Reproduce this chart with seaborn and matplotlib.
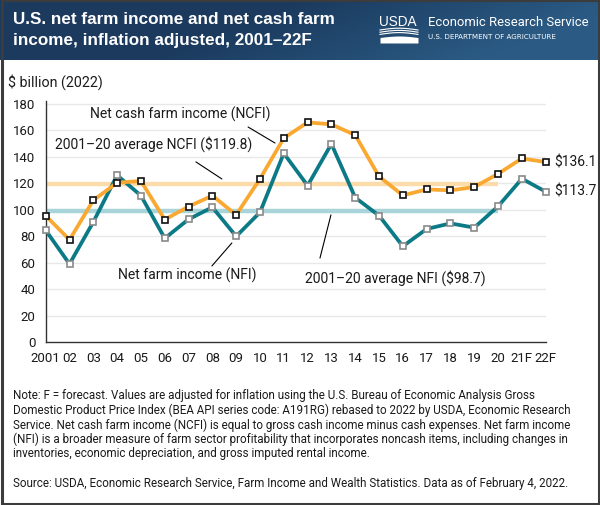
import numpy as np
import pandas as pd
import seaborn as sns
import matplotlib.pyplot as plt
from matplotlib.patches import Rectangle

# Data ($ billion, 2022 dollars)
years = ['2001', '02', '03', '04', '05', '06', '07', '08', '09', '10', '11',
         '12', '13', '14', '15', '16', '17', '18', '19', '20', '21F', '22F']
ncfi = [95.5, 77.3, 107.2, 120.5, 121.8, 92.6, 102.4, 110.7, 96.1, 123.4, 154.2,
        166.1, 164.6, 156.5, 125.2, 110.9, 115.4, 114.7, 117.2, 127.2, 138.8, 136.1]
nfi = [84.5, 59.0, 90.8, 126.1, 110.7, 78.4, 92.8, 101.9, 79.9, 98.1, 142.7,
       118.3, 149.8, 109.2, 95.6, 72.4, 85.5, 89.7, 86.5, 102.6, 123.5, 113.7]
ncfi_avg = 119.8
nfi_avg = 98.7
avg_years = ('2001', '20')
y_ticks = [0, 20, 40, 60, 80, 100, 120, 140, 160, 180]

ORANGE = '#F9A832'
TEAL = '#0C7A86'
ORANGE_LIGHT = '#FBDCAA'
TEAL_LIGHT = '#A9D5DA'
TXT = '#1a1a1a'

df = pd.DataFrame({'year': years, 'pos': np.arange(len(years)), 'NCFI': ncfi, 'NFI': nfi})

W, H = 600, 505
fig = plt.figure(figsize=(W / 100, H / 100), dpi=100)

# background layer in pixel coordinates (banner, border, logo, notes)
bg = fig.add_axes([0, 0, 1, 1], zorder=0)
bg.axis('off')

# banner gradient
gx = np.linspace(0, 1, 300)
gy = np.linspace(0, 1, 40)
GX, GY = np.meshgrid(gx, gy)
t = np.clip((GX + 0.25 * GY - 0.5) / 0.55, 0, 1)
c0 = np.array([0x1b, 0x3a, 0x5e]) / 255
c1 = np.array([0x2b, 0x5b, 0x84]) / 255
img = c0[None, None, :] * (1 - t[..., None]) + c1[None, None, :] * t[..., None]
bg.imshow(img, extent=[0, W, 60, 0], aspect='auto', zorder=1)
bg.set_xlim(0, W)
bg.set_ylim(H, 0)

# outer border
bg.add_patch(Rectangle((1.5, 0), W - 3, H - 1.5, fill=False, edgecolor='#3c3c3c', linewidth=2.2, zorder=5))

# title
bg.text(13, 19.5, 'U.S. net farm income and net cash farm', color='white', fontsize=12.3,
        fontweight='bold', family='Liberation Sans', va='center', ha='left', zorder=3)
bg.text(13, 40, 'income, inflation adjusted, 2001\u201322F', color='white', fontsize=12.3,
        fontweight='bold', family='Liberation Sans', va='center', ha='left', zorder=3)

# USDA logo
bg.text(379, 22.5, 'USDA', color='white', fontsize=9.8, family='Liberation Sans',
        va='center', ha='left', zorder=3)
sx = np.linspace(380, 418, 40)
wave = np.sin((sx - 380) / 38 * np.pi)
for off in [0, 2.2, 4.4]:
    bg.plot(sx, 30 + off - 1.8 * wave, color='white', lw=0.8, zorder=3)
bg.fill_between(sx, 37.5 - 1.5 * wave, 43, color='white', lw=0, zorder=3)
bg.text(428, 22.5, 'Economic Research Service', color='white', fontsize=9.4, family='Roboto',
        va='center', ha='left', zorder=3)
bg.text(428, 37, 'U.S. DEPARTMENT OF AGRICULTURE', color='white', fontsize=5.1,
        family='Liberation Sans Narrow', va='center', ha='left', zorder=3)

# unit label
bg.text(8, 82, '$ billion (2022)', color=TXT, fontsize=10.3, family='Roboto', va='center', ha='left')

# notes
note_lines = [
    'Note: F = forecast. Values are adjusted for inflation using the U.S. Bureau of Economic Analysis Gross',
    'Domestic Product Price Index (BEA API series code: A191RG) rebased to 2022 by USDA, Economic Research',
    'Service. Net cash farm income (NCFI) is equal to gross cash income minus cash expenses. Net farm income',
    '(NFI) is a broader measure of farm sector profitability that incorporates noncash items, including changes in',
    'inventories, economic depreciation, and gross imputed rental income.',
]
for i, line in enumerate(note_lines):
    bg.text(13, 396 + i * 14.5, line, color=TXT, fontsize=8.4, family='Roboto',
            va='center', ha='left')
bg.text(13, 483, 'Source: USDA, Economic Research Service, Farm Income and Wealth Statistics. Data as of February 4, 2022.',
        color=TXT, fontsize=8.4, family='Roboto', va='center', ha='left')

# chart axes
sns.set_style('white')
ymax = 182
ax = fig.add_axes([45.7 / W, (H - 342) / H, 500 / W, 238 / H * ymax / 180], zorder=2)
ax.patch.set_alpha(0)

for v in y_ticks[1:]:
    ax.axhline(v, color='#e8e8e8', lw=1, zorder=0)

i0, i1 = years.index(avg_years[0]), years.index(avg_years[1])
ax.plot([i0, i1], [ncfi_avg, ncfi_avg], color=ORANGE_LIGHT, lw=3.2, solid_capstyle='butt', zorder=1)
ax.plot([i0, i1], [nfi_avg, nfi_avg], color=TEAL_LIGHT, lw=3.2, solid_capstyle='butt', zorder=1)

sns.lineplot(data=df, x='pos', y='NFI', ax=ax, color=TEAL, lw=2.7, marker='s', markersize=5,
             markerfacecolor='white', markeredgecolor='#8a8a8a', markeredgewidth=1.2, zorder=3,
             clip_on=False)
sns.lineplot(data=df, x='pos', y='NCFI', ax=ax, color=ORANGE, lw=2.7, marker='s', markersize=5,
             markerfacecolor='white', markeredgecolor='#111111', markeredgewidth=1.2, zorder=4,
             clip_on=False)

ax.set_xlim(0, len(years) - 1)
ax.set_ylim(0, ymax)
ax.set_xticks(df['pos'])
ax.set_xticklabels(years)
ax.set_yticks(y_ticks)
ax.set_xlabel('')
ax.set_ylabel('')
for s in ['top', 'right']:
    ax.spines[s].set_visible(False)
for s in ['left', 'bottom']:
    ax.spines[s].set_color('#333333')
    ax.spines[s].set_linewidth(1)
ax.tick_params(axis='both', direction='out', length=3.5, width=1, color='#333333',
               labelsize=9.5, labelcolor=TXT, pad=4)
for lab in ax.get_xticklabels() + ax.get_yticklabels():
    lab.set_family('Roboto')

# annotations
afont = dict(fontsize=10, family='Roboto', color=TXT, ha='center', va='center')
ax.text(5.66, 172.5, 'Net cash farm income (NCFI)', **afont)
ax.plot([8.5, 9.63], [162.6, 150.5], color='black', lw=0.8)
ax.text(4.53, 149.8, '2001\u201320 average NCFI ($119.8)', **afont)
ax.plot([6.31, 7.4], [136.2, 123.3], color='black', lw=0.8)
ax.text(5.93, 50.7, 'Net farm income (NFI)', **afont)
ax.plot([6.98, 7.82], [57.5, 74.9], color='black', lw=0.8)
ax.text(14.67, 48.4, '2001\u201320 average NFI ($98.7)', **afont)
ax.plot([11.52, 11.98], [63.5, 96.1], color='black', lw=0.8)
ax.text(21.35, ncfi[-1], '$%.1f' % ncfi[-1], fontsize=10, family='Roboto', color=TXT, ha='left', va='center')
ax.text(21.35, nfi[-1], '$%.1f' % nfi[-1], fontsize=10, family='Roboto', color=TXT, ha='left', va='center')

fig.savefig('out.png', dpi=100)
